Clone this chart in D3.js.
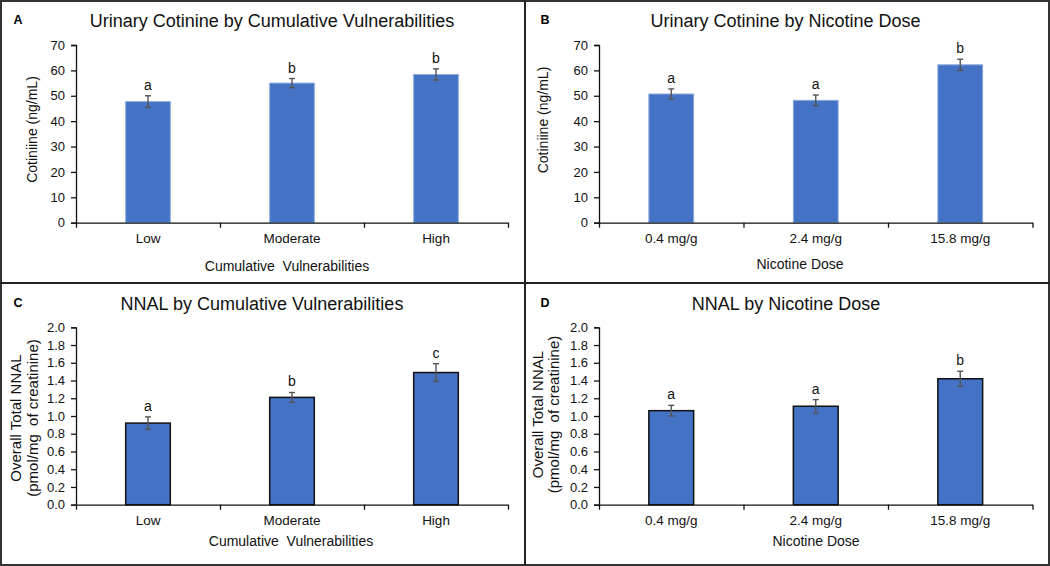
<!DOCTYPE html>
<html>
<head>
<meta charset="utf-8">
<script src="https://cdn.jsdelivr.net/npm/d3@7"></script>
<style>
  body { margin: 0; background: #fff; }
  svg { display: block; font-family: "Liberation Sans", Arial, sans-serif; }
</style>
</head>
<body>
<div id="chart"></div>
<script>
// categories
var vulnCats = ["Low", "Moderate", "High"];
var doseCats = ["0.4 mg/g", "2.4 mg/g", "15.8 mg/g"];

// series values (mean, error) and significance letters
var cotVulnMean = [47.7, 55.0, 58.4];
var cotVulnErr = [2.3, 1.8, 2.2];
var cotVulnSig = ["a", "b", "b"];

var cotDoseMean = [50.7, 48.2, 62.2];
var cotDoseErr = [2.0, 2.1, 2.2];
var cotDoseSig = ["a", "a", "b"];

var nnalVulnMean = [0.92, 1.21, 1.49];
var nnalVulnErr = [0.07, 0.055, 0.10];
var nnalVulnSig = ["a", "b", "c"];

var nnalDoseMean = [1.06, 1.11, 1.42];
var nnalDoseErr = [0.06, 0.075, 0.085];
var nnalDoseSig = ["a", "a", "b"];

// tick values
var cotTicks = [0, 10, 20, 30, 40, 50, 60, 70];
var nnalTicks = [0, 0.2, 0.4, 0.6, 0.8, 1.0, 1.2, 1.4, 1.6, 1.8, 2.0];

var W = 1050, H = 566;

var svg = d3.select("#chart").append("svg")
    .attr("width", W)
    .attr("height", H);

svg.append("rect").attr("width", W).attr("height", H).attr("fill", "#fff");

var panels = [
  { tag: "A", title: "Urinary Cotinine by Cumulative Vulnerabilities", cats: vulnCats,
    mean: cotVulnMean, err: cotVulnErr, sig: cotVulnSig, ticks: cotTicks, fmt: d3.format("d"),
    ox: 0, oy: 0, x0: 76, x1: 508, top: 45, bottom: 222.7, titleX: 272,
    yLabel: ["Cotiniine (ng/mL)"], yLabelX: [32], yLabelY: 129.5, yLabelSize: 14,
    xLabel: "Cumulative  Vulnerabilities", xLabelY: 271, xLabelX: 287,
    outline: "#8faadc", outlineW: 1 },
  { tag: "B", title: "Urinary Cotinine by Nicotine Dose", cats: doseCats,
    mean: cotDoseMean, err: cotDoseErr, sig: cotDoseSig, ticks: cotTicks, fmt: d3.format("d"),
    ox: 525, oy: 0, x0: 74, x1: 507.5, top: 45, bottom: 222.7, titleX: 260.5,
    yLabel: ["Cotiniine (ng/mL)"], yLabelX: [18], yLabelY: 120, yLabelSize: 14,
    xLabel: "Nicotine Dose", xLabelY: 269, xLabelX: 275,
    outline: "#8faadc", outlineW: 1 },
  { tag: "C", title: "NNAL by Cumulative Vulnerabilities", cats: vulnCats,
    mean: nnalVulnMean, err: nnalVulnErr, sig: nnalVulnSig, ticks: nnalTicks, fmt: d3.format(".1f"),
    ox: 0, oy: 283, x0: 76, x1: 508, top: 44.3, bottom: 221.7, titleX: 262,
    yLabel: ["Overall Total NNAL", "(pmol/mg  of creatinine)"], yLabelX: [16, 33], yLabelY: 135, yLabelSize: 15,
    xLabel: "Cumulative  Vulnerabilities", xLabelY: 263, xLabelX: 291,
    outline: "#111", outlineW: 1.5 },
  { tag: "D", title: "NNAL by Nicotine Dose", cats: doseCats,
    mean: nnalDoseMean, err: nnalDoseErr, sig: nnalDoseSig, ticks: nnalTicks, fmt: d3.format(".1f"),
    ox: 525, oy: 283, x0: 74, x1: 507.5, top: 44.3, bottom: 221.7, titleX: 261,
    yLabel: ["Overall Total NNAL", "(pmol/mg  of creatinine)"], yLabelX: [13, 29], yLabelY: 131.5, yLabelSize: 15,
    xLabel: "Nicotine Dose", xLabelY: 263, xLabelX: 291,
    outline: "#111", outlineW: 1.5 }
];

panels.forEach(function(p) {
  var g = svg.append("g").attr("transform", "translate(" + p.ox + "," + p.oy + ")");

  // scales
  var x = d3.scaleBand().domain(p.cats).range([p.x0, p.x1])
      .paddingInner(0.69).paddingOuter(0.345);
  var xb = d3.scaleLinear().domain([0, p.cats.length]).range([p.x0, p.x1]);
  var y = d3.scaleLinear().domain([p.ticks[0], p.ticks[p.ticks.length - 1]])
      .range([p.bottom, p.top]);

  // panel letter and title
  g.append("text").attr("x", p.ox ? 20 : 18).attr("y", 24)
      .attr("text-anchor", "middle")
      .style("font-weight", "bold").style("font-size", "12.5px")
      .text(p.tag);
  g.append("text").attr("x", p.titleX).attr("y", 27)
      .attr("text-anchor", "middle")
      .style("font-size", "18px").attr("fill", "#111")
      .text(p.title);

  // bars
  g.selectAll(".bar").data(p.mean).enter().append("rect")
      .attr("x", function(d, i) { return x(p.cats[i]); })
      .attr("y", function(d) { return y(d); })
      .attr("width", x.bandwidth())
      .attr("height", function(d) { return y(0) - y(d); })
      .attr("fill", "#4472c4")
      .attr("stroke", p.outline)
      .attr("stroke-width", p.outlineW);

  // error bars
  var eb = g.selectAll(".err").data(p.mean).enter().append("g")
      .attr("stroke", "#555").attr("stroke-width", 1.4);
  eb.append("line")
      .attr("x1", function(d, i) { return x(p.cats[i]) + x.bandwidth() / 2; })
      .attr("x2", function(d, i) { return x(p.cats[i]) + x.bandwidth() / 2; })
      .attr("y1", function(d, i) { return y(d + p.err[i]); })
      .attr("y2", function(d, i) { return y(d - p.err[i]); });
  [1, -1].forEach(function(s) {
    eb.append("line")
        .attr("x1", function(d, i) { return x(p.cats[i]) + x.bandwidth() / 2 - 3; })
        .attr("x2", function(d, i) { return x(p.cats[i]) + x.bandwidth() / 2 + 3; })
        .attr("y1", function(d, i) { return y(d + s * p.err[i]); })
        .attr("y2", function(d, i) { return y(d + s * p.err[i]); });
  });

  // significance letters
  g.selectAll(".sig").data(p.mean).enter().append("text")
      .attr("x", function(d, i) { return x(p.cats[i]) + x.bandwidth() / 2; })
      .attr("y", function(d, i) { return y(d + p.err[i]) - 6; })
      .attr("text-anchor", "middle")
      .style("font-size", "14px").attr("fill", "#111")
      .text(function(d, i) { return p.sig[i]; });

  // Y axis
  var yAxis = g.append("g")
      .attr("transform", "translate(" + p.x0 + ",0)")
      .call(d3.axisLeft(y).tickValues(p.ticks).tickFormat(p.fmt).tickSizeOuter(0).tickSize(5).tickPadding(6));
  yAxis.selectAll("text").style("font-size", "13px").attr("fill", "#111")
      .style("font-family", "Liberation Sans, Arial, sans-serif");
  yAxis.selectAll("line, path").attr("stroke", "#111").attr("stroke-width", 1.3);

  // X axis: boundary ticks
  var xAxis = g.append("g")
      .attr("transform", "translate(0," + p.bottom + ")")
      .call(d3.axisBottom(xb).tickValues(d3.range(p.cats.length + 1)).tickFormat("").tickSize(5).tickSizeOuter(0));
  xAxis.selectAll("line, path").attr("stroke", "#111").attr("stroke-width", 1.3);

  // X axis category labels
  var xLab = g.append("g")
      .attr("transform", "translate(0," + p.bottom + ")")
      .call(d3.axisBottom(x).tickSize(0).tickPadding(11));
  xLab.select(".domain").remove();
  xLab.selectAll("text").style("font-size", "13.5px").attr("fill", "#111")
      .style("font-family", "Liberation Sans, Arial, sans-serif");

  // axis titles
  g.append("text").attr("x", p.xLabelX).attr("y", p.xLabelY)
      .attr("text-anchor", "middle").attr("xml:space", "preserve")
      .style("font-size", "14px").attr("fill", "#111")
      .text(p.xLabel);

  p.yLabel.forEach(function(t, i) {
    g.append("text")
        .attr("transform", "translate(" + (p.yLabelX[i] + 5) + "," + p.yLabelY + ") rotate(-90)")
        .attr("text-anchor", "middle").attr("xml:space", "preserve")
        .style("font-size", p.yLabelSize + "px").attr("fill", "#111")
        .text(t);
  });
});

// frame and dividers
svg.append("rect").attr("x", 1).attr("y", 1).attr("width", W - 2).attr("height", H - 2)
    .attr("fill", "none").attr("stroke", "#333").attr("stroke-width", 2);
svg.append("line").attr("x1", 525).attr("x2", 525).attr("y1", 0).attr("y2", H)
    .attr("stroke", "#222").attr("stroke-width", 2);
svg.append("line").attr("x1", 0).attr("x2", W).attr("y1", 283).attr("y2", 283)
    .attr("stroke", "#222").attr("stroke-width", 2);
</script>
</body>
</html>
